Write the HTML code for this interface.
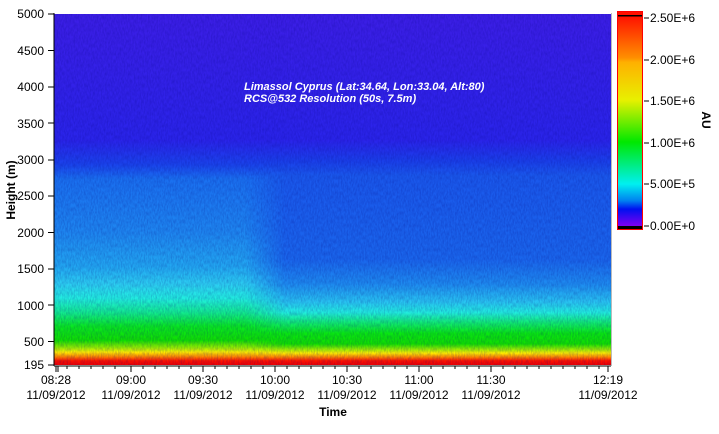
<!DOCTYPE html>
<html><head><style>
body{margin:0;background:#fff;width:719px;height:429px;overflow:hidden;font-family:"Liberation Sans",sans-serif}
</style></head><body>
<svg width="719" height="429" xmlns="http://www.w3.org/2000/svg" font-family="Liberation Sans, sans-serif" font-size="12">
<defs>
<linearGradient id="gl" x1="0" y1="14" x2="0" y2="365" gradientUnits="userSpaceOnUse">
<stop offset="0" stop-color="#3c1ee6"/>
<stop offset="0.36" stop-color="#2a24ea"/>
<stop offset="0.43" stop-color="#1a44ec"/>
<stop offset="0.47" stop-color="#1a70f0"/>
<stop offset="0.62" stop-color="#1e86f0"/>
<stop offset="0.72" stop-color="#22a8f2"/>
<stop offset="0.77" stop-color="#2ccff2"/>
<stop offset="0.81" stop-color="#22eee0"/>
<stop offset="0.85" stop-color="#12ec90"/>
<stop offset="0.89" stop-color="#08e820"/>
<stop offset="0.93" stop-color="#10e000"/>
<stop offset="0.952" stop-color="#a0f000"/>
<stop offset="0.963" stop-color="#fff000"/>
<stop offset="0.975" stop-color="#ff9000"/>
<stop offset="0.988" stop-color="#ff1000"/>
<stop offset="1" stop-color="#f00000"/>
</linearGradient>
<linearGradient id="gr" x1="0" y1="14" x2="0" y2="365" gradientUnits="userSpaceOnUse">
<stop offset="0" stop-color="#3c1ee6"/>
<stop offset="0.36" stop-color="#2a24ea"/>
<stop offset="0.42" stop-color="#1a40ea"/>
<stop offset="0.46" stop-color="#1a58ec"/>
<stop offset="0.70" stop-color="#1a66ec"/>
<stop offset="0.77" stop-color="#1e8cf0"/>
<stop offset="0.82" stop-color="#28c4f2"/>
<stop offset="0.85" stop-color="#22eee0"/>
<stop offset="0.88" stop-color="#10ec70"/>
<stop offset="0.91" stop-color="#08e810"/>
<stop offset="0.94" stop-color="#10e000"/>
<stop offset="0.956" stop-color="#a0f000"/>
<stop offset="0.966" stop-color="#fff000"/>
<stop offset="0.977" stop-color="#ff8800"/>
<stop offset="0.988" stop-color="#ff1000"/>
<stop offset="1" stop-color="#f00000"/>
</linearGradient>
<linearGradient id="blend" x1="245" x2="285" y1="0" y2="0" gradientUnits="userSpaceOnUse">
<stop offset="0" stop-color="#fff" stop-opacity="1"/>
<stop offset="1" stop-color="#fff" stop-opacity="0"/>
</linearGradient>
<mask id="m"><rect x="54" y="14" width="557" height="351" fill="url(#blend)"/></mask>
<linearGradient id="cb" x1="0" y1="16" x2="0" y2="226" gradientUnits="userSpaceOnUse">
<stop offset="0" stop-color="#ff1000"/>
<stop offset="0.2" stop-color="#ff9000"/>
<stop offset="0.22" stop-color="#ffb000"/>
<stop offset="0.4" stop-color="#e8f000"/>
<stop offset="0.6" stop-color="#00e800"/>
<stop offset="0.8" stop-color="#00f0f0"/>
<stop offset="0.88" stop-color="#0080f0"/>
<stop offset="0.92" stop-color="#0010f0"/>
<stop offset="1" stop-color="#8000f0"/>
</linearGradient>
<filter id="n2" filterUnits="userSpaceOnUse" x="54" y="14" width="557" height="351"><feTurbulence type="fractalNoise" baseFrequency="0.7 0.25" numOctaves="2" seed="8"/><feColorMatrix values="0 0 0 0 0  0 0 0 0 0  0 0 0 0 0.2  0 0 0.4 0 -0.12"/></filter>
</defs>
<rect x="54" y="14" width="557" height="351" fill="url(#gr)"/>
<rect x="54" y="14" width="557" height="351" fill="url(#gl)" mask="url(#m)"/>
<rect x="54" y="14" width="557" height="351" filter="url(#n2)"/>
<line x1="54" y1="13" x2="54" y2="366" stroke="#000"/>
<line x1="611.5" y1="13" x2="611.5" y2="366" stroke="#bbb"/>
<text x="244" y="90" fill="#fff" font-weight="bold" font-style="italic" font-size="11">Limassol Cyprus (Lat:34.64, Lon:33.04, Alt:80)</text>
<text x="244" y="102" fill="#fff" font-weight="bold" font-style="italic" font-size="11">RCS@532 Resolution (50s, 7.5m)</text>
<g text-anchor="end" fill="#000">
<text x="44" y="18">5000</text><text x="44" y="55">4500</text><text x="44" y="91">4000</text>
<text x="44" y="128">3500</text><text x="44" y="164">3000</text><text x="44" y="200">2500</text>
<text x="44" y="237">2000</text><text x="44" y="273">1500</text><text x="44" y="310">1000</text>
<text x="44" y="346">500</text><text x="44" y="369">195</text>
</g>
<g stroke="#000">
<path d="M48 14h6M48 50.5h6M48 87h6M48 123h6M48 160h6M48 196h6M48 232.5h6M48 269h6M48 305h6M48 341.5h6M48 365h6"/>
<path d="M54 366h557"/>
</g>
<path stroke="#000" d="M56 366v6M58 366v6M131 366v6M203 366v6M275 366v6M347 366v6M419 366v6M491 366v6M608 366v6
M67 366v3M79 366v3M91 366v3M103 366v3M115 366v3M143 366v3M155 366v3M167 366v3M179 366v3M191 366v3M215 366v3M227 366v3M239 366v3M251 366v3M263 366v3M287 366v3M299 366v3M311 366v3M323 366v3M335 366v3M359 366v3M371 366v3M383 366v3M395 366v3M407 366v3M431 366v3M443 366v3M455 366v3M467 366v3M479 366v3M503 366v3M515 366v3M527 366v3M539 366v3M551 366v3M563 366v3M575 366v3M587 366v3M599 366v3"/>
<g text-anchor="middle" fill="#000">
<text x="56" y="384">08:28</text><text x="56" y="399">11/09/2012</text>
<text x="131" y="384">09:00</text><text x="131" y="399">11/09/2012</text>
<text x="203" y="384">09:30</text><text x="203" y="399">11/09/2012</text>
<text x="275" y="384">10:00</text><text x="275" y="399">11/09/2012</text>
<text x="347" y="384">10:30</text><text x="347" y="399">11/09/2012</text>
<text x="419" y="384">11:00</text><text x="419" y="399">11/09/2012</text>
<text x="491" y="384">11:30</text><text x="491" y="399">11/09/2012</text>
<text x="608" y="384">12:19</text><text x="608" y="399">11/09/2012</text>
<text x="333" y="416" font-weight="bold">Time</text>
</g>
<text transform="translate(15,190) rotate(-90)" text-anchor="middle" font-weight="bold">Height (m)</text>
<rect x="617.5" y="11.5" width="25" height="218" fill="#ff1000" stroke="#f00"/>
<rect x="618" y="16" width="24" height="210" fill="url(#cb)"/>
<rect x="618" y="15" width="24" height="1.5" fill="#000"/>
<rect x="618" y="226" width="24" height="3" fill="#000"/>
<g stroke="#000"><path d="M644 18h5M644 60h5M644 101h5M644 143h5M644 184h5M644 226h5"/></g>
<g fill="#000">
<text x="650" y="22">2.50E+6</text><text x="650" y="64">2.00E+6</text><text x="650" y="105">1.50E+6</text>
<text x="650" y="147">1.00E+6</text><text x="650" y="188">5.00E+5</text><text x="650" y="230">0.00E+0</text>
</g>
<text transform="translate(702,120) rotate(90)" text-anchor="middle" font-weight="bold">AU</text>
</svg>
</body></html>
